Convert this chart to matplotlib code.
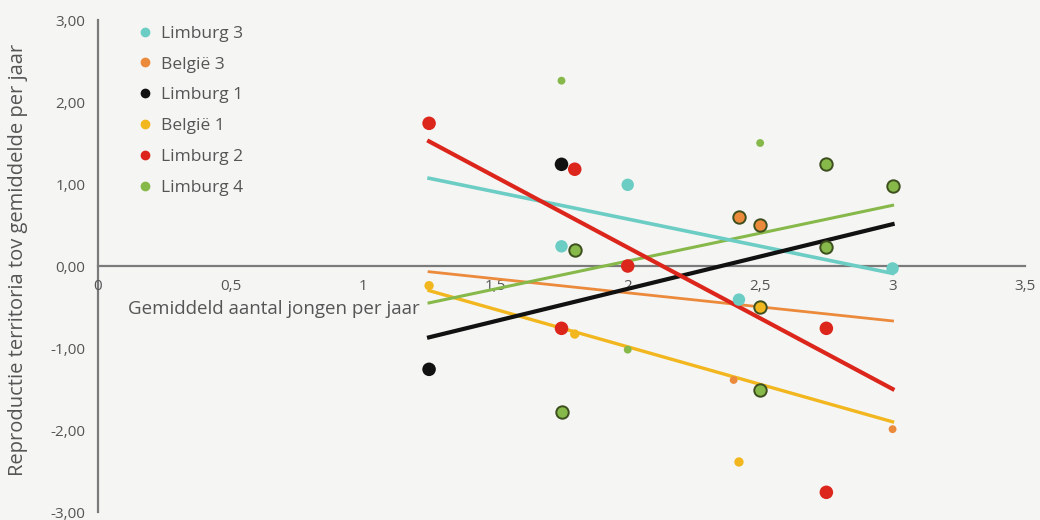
"""
Reproductie territoria t.o.v. gemiddelde per jaar tegen gemiddeld aantal jongen
"""

import matplotlib.pyplot as plt
from matplotlib.lines import Line2D

plt.rcParams["font.family"] = ["Open Sans", "DejaVu Sans"]

# ── Data ────────────────────────────────────────────────────────────────────
reeksen = ["Limburg 3", "België 3", "Limburg 1", "België 1", "Limburg 2", "Limburg 4"]

# punten per reeks (x = gemiddeld aantal jongen, y = reproductie t.o.v. gemiddelde)
lim3_x = [2.0, 1.75, 2.42, 3.0]
lim3_y = [0.99, 0.24, -0.41, -0.03]
bel3_x = [2.42, 2.5, 2.40, 3.0]
bel3_y = [0.60, 0.50, -1.39, -1.99]
lim1_x = [1.75, 1.25]
lim1_y = [1.24, -1.26]
bel1_x = [1.25, 1.80, 2.5, 2.42]
bel1_y = [-0.24, -0.83, -0.50, -2.39]
lim2_x = [1.25, 1.80, 2.0, 1.75, 2.75, 2.75]
lim2_y = [1.74, 1.18, 0.0, -0.76, -0.76, -2.76]
lim4_x = [1.75, 2.5, 2.75, 3.0, 1.80, 2.75, 2.0, 1.75, 2.5]
lim4_y = [2.26, 1.50, 1.24, 0.98, 0.20, 0.23, -1.02, -1.78, -1.51]

# omlijnde punten (overlappende waarnemingen)
bel3_rand = [True, True, False, False]
bel1_rand = [False, False, True, False]
lim4_rand = [False, False, True, True, True, True, False, True, True]

# trendlijnen: waarde bij x = 1,25 en x = 3
trend_x = [1.25, 3.0]
trend_lim3 = [1.07, -0.09]
trend_bel3 = [-0.07, -0.67]
trend_lim1 = [-0.87, 0.51]
trend_bel1 = [-0.30, -1.90]
trend_lim2 = [1.52, -1.50]
trend_lim4 = [-0.45, 0.74]

x_ticks = [0, 0.5, 1, 1.5, 2, 2.5, 3, 3.5]
x_labels = ["0", "0,5", "1", "1,5", "2", "2,5", "3", "3,5"]
y_ticks = [3, 2, 1, 0, -1, -2, -3]
y_labels = ["3,00", "2,00", "1,00", "0,00", "-1,00", "-2,00", "-3,00"]

# ── Stijl ───────────────────────────────────────────────────────────────────
C_CYAAN = "#6ccdc5"
C_ORANJE = "#ec8a3c"
C_ZWART = "#111111"
C_GEEL = "#f2b61e"
C_ROOD = "#dc261c"
C_GROEN = "#86b84a"
RAND = "#3d4f1e"
BG = "#f5f5f3"
TXT = "#555555"

fig = plt.figure(figsize=(10.4, 5.2), dpi=100, facecolor=BG)
ax = fig.add_axes([98 / 1040, 1 - 512 / 520, (1025 - 98) / 1040, 492 / 520])
ax.set_facecolor(BG)
ax.set_xlim(0, 3.5)
ax.set_ylim(-3, 3)

# trendlijnen
ax.plot(trend_x, trend_bel3, color=C_ORANJE, lw=2.0, zorder=2)
ax.plot(trend_x, trend_bel1, color=C_GEEL, lw=2.4, zorder=2)
ax.plot(trend_x, trend_lim4, color=C_GROEN, lw=2.2, zorder=2)
ax.plot(trend_x, trend_lim3, color=C_CYAAN, lw=2.6, zorder=2)
ax.plot(trend_x, trend_lim1, color=C_ZWART, lw=3.0, zorder=2)
ax.plot(trend_x, trend_lim2, color=C_ROOD, lw=3.0, zorder=2)


def punten(xs, ys, kleur, klein, groot, rand=None):
    if rand is None:
        rand = [False] * len(xs)
    for x, y, r in zip(xs, ys, rand):
        if r:
            ax.scatter(x, y, s=groot, color=kleur, edgecolors=RAND,
                       linewidths=1.4, zorder=4)
        else:
            ax.scatter(x, y, s=klein, color=kleur, edgecolors="none", zorder=3)


punten(lim3_x, lim3_y, C_CYAAN, 80, 80)
punten(bel3_x, bel3_y, C_ORANJE, 32, 80, bel3_rand)
punten(lim1_x, lim1_y, C_ZWART, 95, 95)
punten(bel1_x, bel1_y, C_GEEL, 45, 80, bel1_rand)
punten(lim2_x, lim2_y, C_ROOD, 95, 95)
punten(lim4_x, lim4_y, C_GROEN, 32, 80, lim4_rand)

# assen door de oorsprong
for kant in ["top", "right"]:
    ax.spines[kant].set_visible(False)
ax.spines["left"].set_position(("data", 0))
ax.spines["bottom"].set_position(("data", 0))
for kant in ["left", "bottom"]:
    ax.spines[kant].set_color("#7a7a7a")
    ax.spines[kant].set_linewidth(1.6)
    ax.spines[kant].set_zorder(1)

ax.set_xticks(x_ticks)
ax.set_xticklabels(x_labels)
ax.set_yticks(y_ticks)
ax.set_yticklabels(y_labels)
ax.tick_params(length=0, colors=TXT, labelsize=11)
ax.tick_params(axis="x", pad=9)
ax.tick_params(axis="y", pad=9)

ax.text(1.215, -0.52, "Gemiddeld aantal jongen per jaar", ha="right", va="center",
        color=TXT, fontsize=13.5)
fig.text(18 / 1040, 0.5, "Reproductie territoria tov gemiddelde per jaar",
         rotation=90, ha="center", va="center", color=TXT, fontsize=14.5)

# legenda
kleuren = [C_CYAAN, C_ORANJE, C_ZWART, C_GEEL, C_ROOD, C_GROEN]
handles = [Line2D([], [], marker="o", ls="none", color=k, markersize=6)
           for k in kleuren]
leg = ax.legend(handles, reeksen, loc="upper left", bbox_to_anchor=(0.03, 1.01),
                frameon=False, fontsize=12.5, handletextpad=0.4,
                labelspacing=0.85, borderaxespad=0.2, handlelength=1.0)
for t in leg.get_texts():
    t.set_color(TXT)

plt.savefig("out.png", dpi=100, facecolor=BG)
